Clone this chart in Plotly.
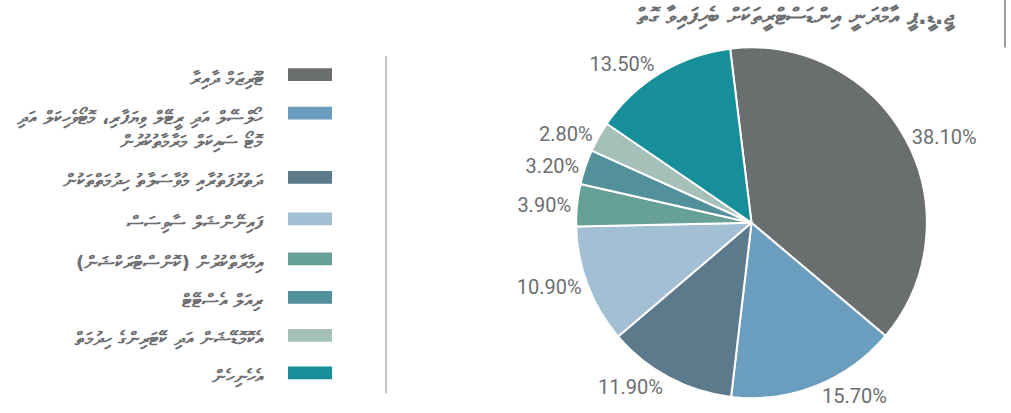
import plotly.graph_objects as go

# ---- data ----
categories = [
    "ޓޫރިޒަމް ދާއިރާ",
    "ހޯލްސޭލް އަދި ރީޓޭލް ވިޔަފާރި، މޮޓޯވެހިކަލް އަދި<br>މޮޓޯ ސައިކަލް މަރާމާތުކުރުން",
    "ދަތުރުފަތުރާއި މުވާސަލާތު ހިދުމަތްތަކުން",
    "ފައިނޭންޝަލް ސާވިސަސް",
    "އިމާރާތްކުރުން (ކޮންސްޓްރަކްޝަން)",
    "ރިއަލް އެސްޓޭޓް",
    "އެކޮމޮޑޭޝަން އަދި ކޭޓަރިންގެ ހިދުމަތް",
    "އެހެނިހެން",
]
shares = [38.1, 15.7, 11.9, 10.9, 3.9, 3.2, 2.8, 13.5]
colors = ["#6b6e6e", "#6b9ebe", "#5d7a8c", "#a2bfd4", "#67a096", "#53919a", "#a5bfb9", "#168f9a"]
title_text = "ޖީ.ޑީ.ޕީ އާމްދަނީ އިންޑަސްޓްރީތަކަށް ބެހިފައިވާ ގޮތް"

W, H = 1011, 413
def px(x):
    return x / W
def py(y):
    return 1 - y / H

THAANA_FONT = "DejaVu Sans, Noto Sans, sans-serif"
GREY = "#6d6e71"

fig = go.Figure()
fig.add_trace(go.Pie(
    labels=categories,
    values=shares,
    sort=False,
    direction="clockwise",
    rotation=-7,
    marker=dict(colors=colors, line=dict(color="white", width=2)),
    texttemplate="%{value:.2f}%",
    textposition="outside",
    textfont=dict(family="Roboto, sans-serif", size=20, color=GREY),
    domain=dict(x=[px(573), px(930)], y=[py(403), py(48)]),
    showlegend=False,
    hoverinfo="label+percent",
))

# custom legend (swatch on the right, RTL text)
row_y = [75.5, 114.5, 179.5, 221.5, 262, 301, 339.5, 377.5]
shapes = []
annotations = []
for lab, col, yc in zip(categories, colors, row_y):
    shapes.append(dict(type="rect", xref="paper", yref="paper",
                       x0=px(288), x1=px(332), y0=py(yc + 6.5), y1=py(yc - 6.5),
                       fillcolor=col, line=dict(width=0), layer="above"))
    annotations.append(dict(text=lab, xref="paper", yref="paper",
                            x=px(266), y=py(yc - 9), xanchor="right", yanchor="top",
                            align="right", showarrow=False,
                            font=dict(family=THAANA_FONT, size=18.5, color=GREY, weight="bold")))

# divider lines
shapes.append(dict(type="line", xref="paper", yref="paper",
                   x0=px(386), x1=px(386), y0=py(57), y1=py(398),
                   line=dict(color="#9a9a9a", width=1.2)))
shapes.append(dict(type="line", xref="paper", yref="paper",
                   x0=px(1005), x1=px(1005), y0=py(0), y1=py(48),
                   line=dict(color="#7a7a7a", width=1.5)))

annotations.append(dict(text=title_text, xref="paper", yref="paper",
                        x=px(958), y=py(18), xanchor="right", yanchor="middle",
                        showarrow=False,
                        font=dict(family=THAANA_FONT, size=23, color=GREY, weight="bold")))

fig.update_layout(
    width=W, height=H,
    margin=dict(l=0, r=0, t=0, b=0),
    paper_bgcolor="white",
    plot_bgcolor="white",
    shapes=shapes,
    annotations=annotations,
)

fig.write_html("out.html", config={"displayModeBar": False},
               post_script="document.body.style.margin='0';document.body.style.overflow='hidden';")
